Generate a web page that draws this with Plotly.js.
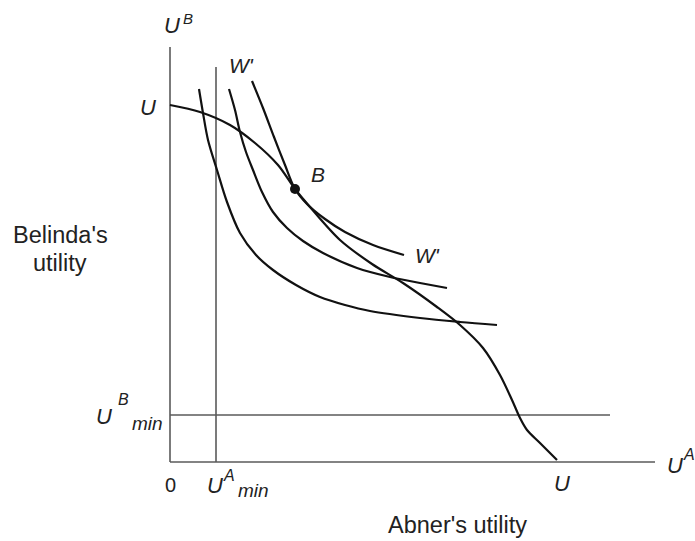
<!DOCTYPE html>
<html>
<head>
<meta charset="utf-8">
<script src="https://cdn.plot.ly/plotly-3.0.1.min.js"></script>
<style>html,body{margin:0;padding:0;background:#fff}#chart{width:695px;height:541px}</style>
</head>
<body>
<div id="chart"></div>
<script>
// Utility possibility frontier U-U (Abner's utility, Belinda's utility)
const frontierUA = [0, 3.0, 6.0, 8.5, 10.8, 12.5, 14.0, 17.0, 20.2, 23.3, 26.7, 29.0, 31.3, 33.0, 34.2, 35.0, 35.7, 37.0, 38.7];
const frontierUB = [35.7, 35.0, 33.7, 31.9, 29.7, 27.3, 25.5, 22.2, 19.8, 17.9, 15.5, 13.7, 11.4, 8.7, 6.2, 4.4, 3.2, 1.9, 0.2];
// Social welfare contours (W' is the highest one)
const w1UA = [2.9, 3.3, 3.8, 4.7, 5.7, 7.0, 8.6, 10.3, 12.6, 15.0, 17.5, 20.0, 25.0, 29.0, 32.7];
const w1UB = [37.3, 34.9, 32.2, 29.2, 26.0, 22.9, 20.7, 19.2, 17.7, 16.5, 15.7, 15.1, 14.4, 14.0, 13.7];
const w2UA = [5.9, 6.5, 7.0, 7.6, 8.3, 9.2, 10.3, 11.7, 13.3, 15.3, 18.7, 22.0, 25.0, 27.7];
const w2UB = [37.3, 35.2, 33.0, 31.0, 29.2, 27.0, 25.0, 23.4, 22.1, 20.9, 19.4, 18.5, 17.9, 17.4];
const w3UA = [8.2, 9.3, 10.4, 11.5, 12.5, 13.7, 15.5, 17.5, 20.3, 23.4];
const w3UB = [38.1, 35.4, 32.5, 29.7, 27.3, 25.8, 24.3, 23.0, 21.7, 20.7];
// Optimum point B
const pointB = [12.5, 27.3];
// Minimum utility levels and axis extents
const uaMin = 4.6, uaMinTop = 39.5;
const ubMin = 4.7, ubMinRight = 44.0;
const axisMaxUA = 48.5, axisMaxUB = 41.5;

const blk = '#111', gry = '#5a5a5a';
const curve = (x, y) => ({x, y, mode: 'lines', line: {color: blk, width: 2.2, shape: 'spline', smoothing: 0.9}, hoverinfo: 'skip'});
const straight = (x, y) => ({x, y, mode: 'lines', line: {color: gry, width: 1.6}, hoverinfo: 'skip'});

const traces = [
  straight([0, 0], [0, axisMaxUB]),
  straight([0, axisMaxUA], [0, 0]),
  straight([uaMin, uaMin], [0, uaMinTop]),
  straight([0, ubMinRight], [ubMin, ubMin]),
  curve(frontierUA, frontierUB),
  curve(w1UA, w1UB),
  curve(w2UA, w2UB),
  curve(w3UA, w3UB),
  {x: [pointB[0]], y: [pointB[1]], mode: 'markers', marker: {color: blk, size: 10}, hoverinfo: 'skip'}
];

const F = 'Liberation Sans, Arial, sans-serif';
const ann = (x, y, text, size) => ({x, y, text, showarrow: false, xanchor: 'center', yanchor: 'middle', font: {family: F, size: size, color: '#222'}});
const it = (x, y, text, size) => ann(x, y, '<i>' + text + '</i>', size);

const layout = {
  width: 695, height: 541,
  margin: {l: 0, r: 0, t: 0, b: 0},
  paper_bgcolor: '#fff', plot_bgcolor: '#fff',
  showlegend: false,
  xaxis: {range: [-17, 52.5], visible: false, fixedrange: true},
  yaxis: {range: [-7.9, 46.2], visible: false, fixedrange: true},
  annotations: [
    it(0.2, 43.7, 'U', 22), it(1.8, 44.4, 'B', 15),
    it(-2.2, 35.5, 'U', 22),
    it(7.1, 39.7, "W'", 21),
    it(14.8, 28.8, 'B', 21),
    it(25.7, 20.7, "W'", 21),
    ann(-11.0, 22.7, "Belinda's", 23.5),
    ann(-11.0, 19.9, 'utility', 23.5),
    it(-6.6, 4.6, 'U', 22), it(-4.7, 6.3, 'B', 16), it(-2.3, 3.9, 'min', 19),
    ann(0.0, -2.3, '0', 20),
    it(4.5, -2.3, 'U', 22), it(5.9, -1.3, 'A', 16), it(8.3, -2.8, 'min', 19),
    it(39.2, -2.1, 'U', 22),
    it(50.5, -0.3, 'U', 22), it(51.9, 0.8, 'A', 16),
    ann(28.7, -6.3, "Abner's utility", 23.5)
  ]
};

Plotly.newPlot('chart', traces, layout, {displayModeBar: false, staticPlot: true});
</script>
</body>
</html>
